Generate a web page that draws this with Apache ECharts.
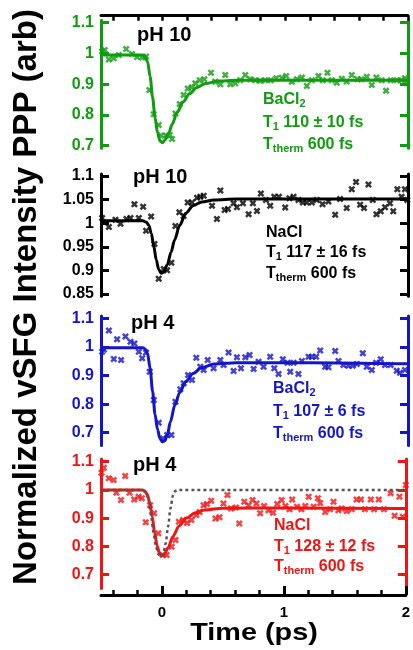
<!DOCTYPE html>
<html><head><meta charset="utf-8">
<script src="https://cdn.jsdelivr.net/npm/echarts@6/dist/echarts.min.js"></script>
<style>html,body{margin:0;padding:0;background:#fff}#c{width:413px;height:650px}</style>
</head><body><div id="c"></div>
<script>
// ---- data ----
const xMin = -0.5, xMax = 2;
const xMinorTicks = [-0.4,-0.2,0,0.2,0.4,0.6,0.8,1,1.2,1.4,1.6,1.8,2];
const xMajorTicks = [0,1,2];
const xTickLabels = [0,1,2];

const y1Ticks = [0.7,0.8,0.9,1,1.1];
const y2Ticks = [0.85,0.9,0.95,1,1.05,1.1];
const y3Ticks = [0.7,0.8,0.9,1,1.1];
const y4Ticks = [0.7,0.8,0.9,1,1.1];

// Panel 1: pH 10, BaCl2 (green)
const t1 = [-0.491,-0.470,-0.436,-0.396,-0.355,-0.295,-0.247,-0.206,-0.165,-0.133,-0.106,-0.071,-0.030,-0.011,0.030,0.060,0.079,0.106,0.141,0.173,0.206,0.241,0.268,0.304,0.341,0.396,0.431,0.472,0.512,0.553,0.593,0.634,0.675,0.715,0.756,0.797,0.837,0.883,0.927,0.973,1.008,1.054,1.095,1.136,1.176,1.217,1.271,1.306,1.344,1.379,1.420,1.461,1.501,1.542,1.588,1.621,1.664,1.705,1.743,1.786,1.821,1.859,1.908,1.948,1.975,1.989];
const v1 = [1.006,1.011,0.980,0.984,0.995,1.014,0.998,0.988,0.987,0.990,0.881,0.802,0.767,0.733,0.733,0.735,0.722,0.805,0.836,0.865,0.886,0.890,0.903,0.913,0.916,0.937,0.908,0.900,0.930,0.900,0.903,0.913,0.930,0.916,0.913,0.911,0.913,0.913,0.919,0.921,0.927,0.908,0.916,0.922,0.894,0.913,0.927,0.913,0.937,0.913,0.905,0.918,0.909,0.930,0.916,0.916,0.924,0.897,0.922,0.913,0.879,0.913,0.913,0.913,0.919,0.903];
const f1t = [-0.5,-0.16,-0.14,-0.12,-0.10,-0.08,-0.06,-0.04,-0.02,0.0,0.02,0.05,0.08,0.12,0.17,0.22,0.28,0.35,0.45,0.6,2.0];
const f1v = [0.995,0.995,0.990,0.972,0.925,0.858,0.792,0.743,0.716,0.710,0.718,0.740,0.770,0.808,0.843,0.869,0.889,0.902,0.910,0.913,0.913];

// Panel 2: pH 10, NaCl (black)
const t2 = [-0.491,-0.436,-0.382,-0.341,-0.293,-0.260,-0.228,-0.192,-0.157,-0.133,-0.092,-0.065,-0.030,0.011,0.038,0.073,0.106,0.138,0.173,0.206,0.241,0.282,0.309,0.336,0.404,0.444,0.472,0.507,0.534,0.580,0.607,0.656,0.702,0.737,0.770,0.802,0.843,0.878,0.911,0.949,1.000,1.035,1.068,1.108,1.144,1.176,1.217,1.257,1.304,1.352,1.407,1.447,1.501,1.542,1.577,1.610,1.642,1.678,1.713,1.743,1.778,1.813,1.853,1.880,1.913,1.948,1.975,1.994];
const v2 = [1.011,0.992,1.007,0.999,1.009,1.011,1.040,1.011,1.035,0.984,1.014,0.956,0.882,0.903,0.900,0.916,0.994,1.023,1.015,1.044,1.044,1.054,1.056,1.058,1.037,1.009,1.069,1.028,1.030,1.042,1.034,1.042,1.019,1.042,1.026,1.063,1.049,1.037,1.056,1.056,1.033,1.053,1.056,1.049,1.044,1.044,1.044,1.049,1.040,1.046,1.018,1.051,1.032,1.072,1.087,1.039,1.032,1.082,1.049,1.019,1.025,1.034,1.042,1.025,1.072,1.056,1.072,1.049];
const f2t = [-0.5,-0.16,-0.13,-0.11,-0.09,-0.07,-0.05,-0.03,-0.01,0.01,0.04,0.07,0.10,0.14,0.19,0.25,0.32,0.42,0.6,2.0];
const f2v = [1.005,1.005,1.002,0.995,0.978,0.951,0.922,0.902,0.894,0.896,0.912,0.938,0.965,0.995,1.021,1.037,1.045,1.049,1.051,1.051];

// Panel 3: pH 4, BaCl2 (blue)
const t3 = [-0.491,-0.477,-0.436,-0.396,-0.369,-0.336,-0.301,-0.260,-0.228,-0.192,-0.165,-0.133,-0.103,-0.070,-0.030,0.005,0.038,0.073,0.106,0.146,0.173,0.209,0.241,0.276,0.309,0.336,0.369,0.417,0.472,0.499,0.539,0.580,0.607,0.640,0.675,0.710,0.743,0.783,0.824,0.878,0.911,0.946,0.981,1.019,1.041,1.068,1.108,1.136,1.190,1.217,1.252,1.285,1.325,1.352,1.407,1.434,1.474,1.515,1.550,1.583,1.632,1.664,1.705,1.740,1.778,1.813,1.859,1.908,1.935,1.975];
const v3 = [0.983,0.991,1.057,0.958,1.027,0.954,1.036,1.018,1.012,0.983,0.960,0.980,0.913,0.814,0.735,0.680,0.692,0.692,0.808,0.852,0.873,0.902,0.884,0.962,0.931,0.919,0.954,0.925,0.954,0.937,0.980,0.916,0.964,0.925,0.964,0.972,0.923,0.948,0.931,0.966,0.925,0.905,0.957,0.945,0.913,0.945,0.905,0.951,0.966,0.966,0.966,0.987,0.931,0.929,0.986,0.951,0.937,0.934,0.934,0.940,0.978,0.931,0.919,0.945,0.957,0.937,0.937,0.917,0.910,0.919];
const f3t = [-0.5,-0.16,-0.14,-0.12,-0.10,-0.08,-0.06,-0.04,-0.02,0.0,0.02,0.04,0.065,0.10,0.14,0.19,0.25,0.32,0.42,0.6,1.2,2.0];
const f3v = [0.997,0.997,0.993,0.975,0.925,0.845,0.765,0.712,0.680,0.668,0.672,0.692,0.738,0.795,0.840,0.878,0.907,0.927,0.940,0.945,0.945,0.941];

// Panel 4: pH 4, NaCl (red)
const t4 = [-0.496,-0.477,-0.436,-0.396,-0.374,-0.336,-0.301,-0.266,-0.228,-0.192,-0.165,-0.133,-0.098,-0.065,-0.030,0.005,0.038,0.079,0.111,0.138,0.173,0.206,0.241,0.282,0.309,0.341,0.369,0.404,0.439,0.472,0.504,0.537,0.566,0.607,0.634,0.675,0.710,0.743,0.775,0.805,0.837,0.873,0.911,0.946,0.981,1.013,1.046,1.068,1.108,1.144,1.176,1.203,1.244,1.279,1.298,1.339,1.379,1.407,1.447,1.474,1.515,1.556,1.596,1.632,1.664,1.713,1.740,1.778,1.821,1.875,1.908,1.948,1.975,2.0];
const v4 = [1.061,1.079,1.041,1.035,0.990,0.964,1.049,0.990,0.966,0.976,0.970,0.885,0.946,0.917,0.846,0.769,0.769,0.798,0.822,0.887,0.893,0.883,0.893,0.911,0.922,0.946,0.950,0.962,0.899,0.903,0.952,0.982,0.934,0.938,0.881,0.958,0.946,0.964,0.952,0.917,0.943,0.928,0.919,0.950,0.964,0.943,0.931,0.966,0.940,0.931,0.943,0.976,0.940,0.970,0.954,0.922,0.931,0.958,0.928,0.934,0.925,0.931,0.966,0.966,0.931,0.966,0.931,0.966,0.931,0.988,0.908,0.976,0.905,1.017];
const f4t = [-0.5,-0.16,-0.14,-0.12,-0.10,-0.08,-0.06,-0.04,-0.02,0.0,0.02,0.05,0.09,0.14,0.20,0.27,0.35,0.5,1.0,2.0];
const f4v = [1.0,1.0,0.996,0.984,0.955,0.905,0.848,0.802,0.775,0.767,0.772,0.795,0.835,0.872,0.900,0.918,0.929,0.935,0.936,0.934];
// instrument response (dotted)
const irfT = [-0.5,-0.16,-0.13,-0.11,-0.09,-0.07,-0.05,-0.03,-0.01,0.01,0.03,0.05,0.07,0.09,0.11,0.13,2.0];
const irfV = [1.0,1.0,0.99,0.965,0.91,0.85,0.80,0.772,0.762,0.772,0.81,0.87,0.935,0.98,0.997,1.0,1.0];

// ---- styling ----
const FONT = '"Liberation Sans", Arial, sans-serif';
const C = ['#109c10', '#000000', '#1414c8', '#f21414'];
const XMARK = 'path://M0,2.5 L2.5,0 L5,2.5 L7.5,0 L10,2.5 L7.5,5 L10,7.5 L7.5,10 L5,7.5 L2.5,10 L0,7.5 L2.5,5 Z';
const L = 101, W = 307;
const panels = [
  {top: 20.2, height: 128, min: 0.692, max: 1.108, ticks: y1Ticks, t: t1, v: v1, ft: f1t, fv: f1v},
  {top: 174.1, height: 122.2, min: 0.845, max: 1.104, ticks: y2Ticks, t: t2, v: v2, ft: f2t, fv: f2v},
  {top: 316, height: 129.6, min: 0.655, max: 1.108, ticks: y3Ticks, t: t3, v: v3, ft: f3t, fv: f3v},
  {top: 458.9, height: 129.7, min: 0.65, max: 1.11, ticks: y4Ticks, t: t4, v: v4, ft: f4t, fv: f4v}
];
const zip = (a, b) => a.map((x, i) => [x, b[i]]);

const grid = [], xAxis = [], yAxis = [], series = [];
panels.forEach((p, i) => {
  grid.push({left: L, width: W, top: p.top, height: p.height});
  xAxis.push({gridIndex: i, type: 'value', min: xMin, max: xMax, show: false, axisLine: {onZero: false}});
  ['left', 'right'].forEach(pos => {
    yAxis.push({
      gridIndex: i, type: 'value', position: pos, min: p.min, max: p.max,
      splitLine: {show: false},
      axisLine: {show: true, onZero: false, lineStyle: {color: C[i], width: 3}},
      axisTick: {show: true, inside: true, length: 8, customValues: p.ticks, lineStyle: {color: C[i], width: 3}},
      axisLabel: pos === 'left' ? {show: true, customValues: p.ticks, color: C[i], fontSize: 16, fontWeight: 'bold', fontFamily: FONT, margin: 7} : {show: false}
    });
  });
  series.push({
    type: 'scatter', xAxisIndex: i, yAxisIndex: 2 * i, data: zip(p.t, p.v),
    symbol: XMARK, symbolSize: 7, itemStyle: {color: C[i]}, z: 2, silent: true
  });
  series.push({
    type: 'line', xAxisIndex: i, yAxisIndex: 2 * i, data: zip(p.ft, p.fv),
    showSymbol: false, smooth: 0.3, smoothMonotone: 'x',
    lineStyle: {color: C[i], width: 3}, z: 3, silent: true
  });
});
series.push({
  type: 'line', xAxisIndex: 3, yAxisIndex: 6, data: zip(irfT, irfV),
  showSymbol: false, smooth: 0.3, smoothMonotone: 'x',
  lineStyle: {color: '#555', width: 2.5, type: [3, 3]}, z: 4, silent: true
});
// top black time axis (panel 1)
xAxis.push({gridIndex: 0, type: 'value', position: 'top', offset: 4.5, min: xMin, max: xMax,
  splitLine: {show: false}, axisLine: {show: true, onZero: false, lineStyle: {color: '#000', width: 3}},
  axisTick: {show: true, inside: true, length: 5, customValues: xMinorTicks, lineStyle: {color: '#000', width: 2.5}},
  axisLabel: {show: false}});
// bottom black time axis (panel 4): minor ticks
xAxis.push({gridIndex: 3, type: 'value', position: 'bottom', offset: 6.4, min: xMin, max: xMax,
  splitLine: {show: false}, axisLine: {show: true, onZero: false, lineStyle: {color: '#000', width: 3}},
  axisTick: {show: true, inside: true, length: 5, customValues: xMinorTicks, lineStyle: {color: '#000', width: 2.5}},
  axisLabel: {show: false}});
// bottom black time axis: major ticks + labels
xAxis.push({gridIndex: 3, type: 'value', position: 'bottom', offset: 6.4, min: xMin, max: xMax,
  splitLine: {show: false}, axisLine: {show: false, onZero: false},
  axisTick: {show: true, inside: true, length: 9, customValues: xMajorTicks, lineStyle: {color: '#000', width: 3}},
  axisLabel: {show: true, customValues: xTickLabels, color: '#000', fontSize: 15, fontWeight: 'bold', fontFamily: FONT, margin: 10}});

function txt(x, y, str, color, size) {
  return {type: 'text', x: x, y: y, silent: true, style: {
    text: str, fill: color, font: 'bold ' + size + 'px ' + FONT, textAlign: 'left', textVerticalAlign: 'middle'}};
}
function rich(x, y, str, color) {
  return {type: 'text', x: x, y: y, silent: true, style: {
    text: str, fill: color, textAlign: 'left', textVerticalAlign: 'middle',
    rich: {
      n: {fontSize: 16, fontWeight: 'bold', fontFamily: FONT, fill: color, color: color, lineHeight: 18},
      s: {fontSize: 11, fontWeight: 'bold', fontFamily: FONT, fill: color, color: color, lineHeight: 8, verticalAlign: 'bottom'}
    }}};
}
const graphic = [
  {type: 'text', x: 27, y: 297, rotation: Math.PI / 2, silent: true, style: {
    text: 'Normalized vSFG Intensity PPP (arb)', fill: '#000', font: 'bold 33px ' + FONT, textAlign: 'center', textVerticalAlign: 'middle'}},
  {type: 'text', x: 254, y: 633, scaleX: 1.2, silent: true, style: {
    text: 'Time (ps)', fill: '#000', font: 'bold 24px ' + FONT, textAlign: 'center', textVerticalAlign: 'middle'}},
  txt(137, 35, 'pH 10', '#000', 20),
  txt(133, 177, 'pH 10', '#000', 20),
  txt(131, 323, 'pH 4', '#000', 20),
  txt(133, 465, 'pH 4', '#000', 20),
  rich(263, 100, '{n|BaCl}{s|2}', C[0]),
  rich(263, 123, '{n|T}{s|1}{n| 110 ± 10 fs}', C[0]),
  rich(263, 145, '{n|T}{s|therm}{n| 600 fs}', C[0]),
  rich(266, 233, '{n|NaCl}', C[1]),
  rich(266, 253, '{n|T}{s|1}{n| 117 ± 16 fs}', C[1]),
  rich(266, 274, '{n|T}{s|therm}{n| 600 fs}', C[1]),
  rich(273, 389, '{n|BaCl}{s|2}', C[2]),
  rich(273, 412, '{n|T}{s|1}{n| 107 ± 6 fs}', C[2]),
  rich(273, 434, '{n|T}{s|therm}{n| 600 fs}', C[2]),
  rich(274, 526, '{n|NaCl}', C[3]),
  rich(274, 547, '{n|T}{s|1}{n| 128 ± 12 fs}', C[3]),
  rich(274, 567, '{n|T}{s|therm}{n| 600 fs}', C[3])
];

const chart = echarts.init(document.getElementById('c'), null, {renderer: 'canvas'});
chart.setOption({animation: false, backgroundColor: '#fff', grid, xAxis, yAxis, series, graphic});
</script>
</body></html>
